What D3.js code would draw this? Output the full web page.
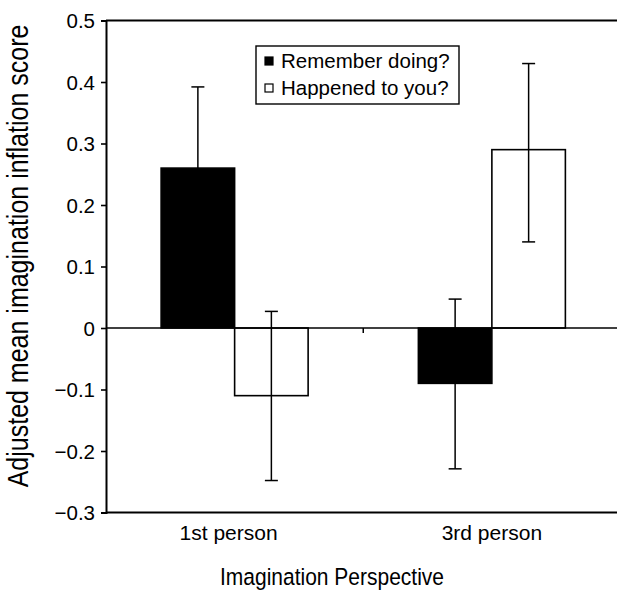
<!DOCTYPE html>
<html>
<head>
<meta charset="utf-8">
<script src="https://cdn.jsdelivr.net/npm/d3@7"></script>
<style>
html,body{margin:0;padding:0;background:#fff;}
svg{display:block;font-family:"Liberation Sans",Arial,Helvetica,sans-serif;}
</style>
</head>
<body>
<svg id="chart" width="617" height="590"></svg>
<script>
const categories = ["1st person", "3rd person"];
const seriesNames = ["Remember doing?", "Happened to you?"];
const rememberValues = [0.26, -0.09];
const happenedValues = [-0.11, 0.29];
const rememberHigh = [0.392, 0.047];
const rememberLow = [0.128, -0.229];
const happenedHigh = [0.027, 0.43];
const happenedLow = [-0.248, 0.14];
const yTicks = [0.5, 0.4, 0.3, 0.2, 0.1, 0, -0.1, -0.2, -0.3];
const yTitle = "Adjusted mean imagination inflation score";
const xTitle = "Imagination Perspective";

(function () {
const svg = d3.select("#chart");
const mLeft = 106, mRight = 620.5, mTop = 20.5, mBottom = 512.5;

const y = d3.scaleLinear().domain([-0.3, 0.5]).range([mBottom, mTop]);
const x0 = d3.scaleBand().domain(categories).range([mLeft, mRight]).paddingInner(0).paddingOuter(0);
const groupW = 147;
const x1 = d3.scaleBand().domain(seriesNames).range([0, groupW]).padding(0);

const rows = [];
categories.forEach((c, i) => {
  rows.push({cat: c, s: seriesNames[0], v: rememberValues[i], hi: rememberHigh[i], lo: rememberLow[i], fill: "#000"});
  rows.push({cat: c, s: seriesNames[1], v: happenedValues[i], hi: happenedHigh[i], lo: happenedLow[i], fill: "#fff"});
});
const bx = d => x0(d.cat) + (x0.bandwidth() - groupW) / 2 + x1(d.s);

// bars
svg.append("g").selectAll("rect").data(rows).join("rect")
  .attr("x", d => bx(d))
  .attr("width", x1.bandwidth())
  .attr("y", d => y(Math.max(0, d.v)))
  .attr("height", d => Math.abs(y(d.v) - y(0)))
  .attr("fill", d => d.fill)
  .attr("stroke", "#000")
  .attr("stroke-width", 1.6);

// error bars
const eg = svg.append("g").attr("stroke", "#000").attr("stroke-width", 1.5);
rows.forEach(d => {
  const cx = bx(d) + x1.bandwidth() / 2;
  eg.append("line").attr("x1", cx).attr("x2", cx).attr("y1", y(d.hi)).attr("y2", y(d.lo));
  [d.hi, d.lo].forEach(v => {
    eg.append("line").attr("x1", cx - 6.5).attr("x2", cx + 6.5).attr("y1", y(v)).attr("y2", y(v));
  });
});

// zero line
svg.append("line").attr("x1", mLeft).attr("x2", 617).attr("y1", y(0)).attr("y2", y(0))
  .attr("stroke", "#000").attr("stroke-width", 1.6);
// category boundary tick
svg.append("line").attr("x1", x0(categories[1])).attr("x2", x0(categories[1]))
  .attr("y1", y(0)).attr("y2", y(0) + 5).attr("stroke", "#000").attr("stroke-width", 1.5);

// top frame line
svg.append("line").attr("x1", mLeft).attr("x2", 617).attr("y1", mTop).attr("y2", mTop)
  .attr("stroke", "#000").attr("stroke-width", 2);

// y axis
const yAxis = d3.axisLeft(y).tickValues(yTicks).tickSize(5).tickPadding(6)
  .tickFormat(d => d === 0 ? "0" : d3.format(".1f")(d).replace("-", "\u2212"));
const ya = svg.append("g").attr("transform", `translate(${mLeft},0)`).call(yAxis);
ya.select(".domain").attr("stroke-width", 2);
ya.selectAll(".tick line").attr("stroke-width", 1.6);
ya.selectAll("text").attr("font-size", 20.5).attr("font-family", "Liberation Sans, Arial, sans-serif").attr("fill", "#000").attr("dy", "0.36em");

// x axis
const xAxis = d3.axisBottom(x0).tickSize(0).tickPadding(13);
const xa = svg.append("g").attr("transform", `translate(0,${mBottom})`).call(xAxis);
xa.select(".domain").attr("stroke-width", 2.2).attr("d", `M${mLeft},0H617`);
xa.selectAll("text").attr("font-size", 21).attr("font-family", "Liberation Sans, Arial, sans-serif").attr("fill", "#000")
  .attr("dx", (d, i) => i === 0 ? -6 : 0);

// axis titles
svg.append("text").attr("transform", "translate(332,585) scale(1,1.18)").attr("text-anchor", "middle")
  .attr("font-size", 21).attr("fill", "#000").text(xTitle);
svg.append("text").attr("transform", `translate(28,256) rotate(-90) scale(1,1.2)`).attr("text-anchor", "middle")
  .attr("font-size", 25).attr("fill", "#000").text(yTitle);

// legend
const lg = svg.append("g");
lg.append("rect").attr("x", 256).attr("y", 46).attr("width", 203).attr("height", 58)
  .attr("fill", "#fff").attr("stroke", "#000").attr("stroke-width", 1.4);
seriesNames.forEach((s, i) => {
  const yy = 68 + i * 27;
  lg.append("rect").attr("x", 265).attr("y", yy - 11).attr("width", 8).attr("height", 8)
    .attr("fill", i === 0 ? "#000" : "#fff").attr("stroke", "#000").attr("stroke-width", 1.2);
  lg.append("text").attr("x", 281).attr("y", yy).attr("font-size", 20.5).attr("fill", "#000").text(s);
});
})();
</script>
</body>
</html>
